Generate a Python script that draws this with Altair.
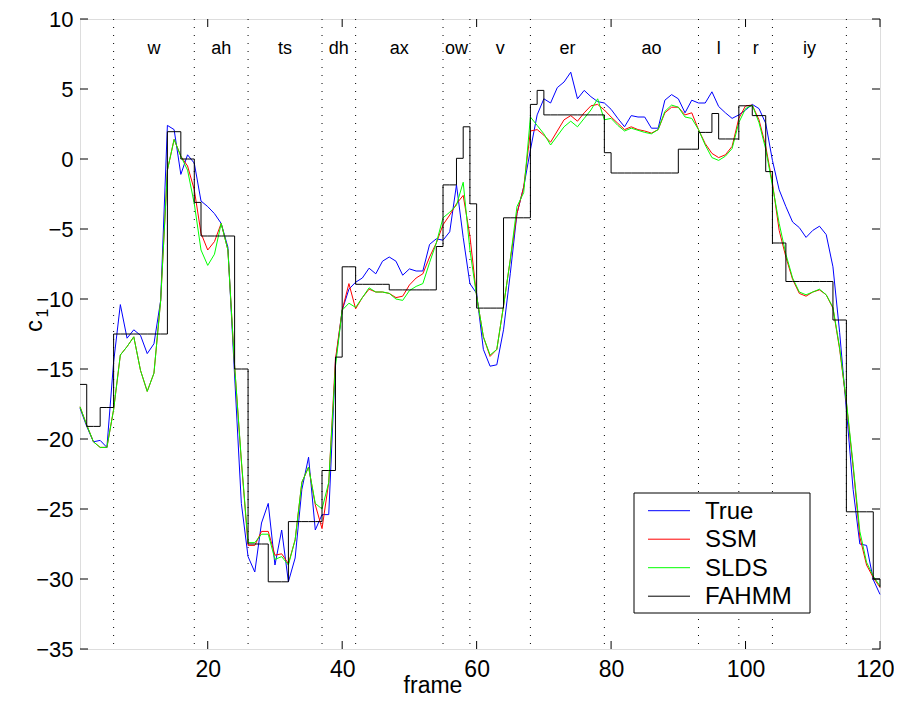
import altair as alt
import pandas as pd

frames = list(range(1, 121))

true_vals = [
    -17.8, -19.1, -20.2, -20.1, -20.6, -14.5, -10.4, -12.8, -12.2, -12.6,
    -13.9, -13.2, -10.1, 2.4, 2.1, -1.1, 0.3, -0.3, -3.0, -3.4,
    -3.9, -4.6, -6.3, -15.5, -24.6, -28.4, -29.5, -26.0, -24.6, -29.0,
    -26.5, -30.2, -28.5, -23.6, -21.3, -26.5, -25.4, -25.4, -14.5, -10.8,
    -9.3, -8.8, -8.5, -7.8, -8.2, -7.3, -7.0, -7.3, -8.3, -7.85,
    -8.0, -8.0, -6.1, -5.7, -5.8, -5.2, -1.85, -5.6, -8.9, -9.6,
    -13.6, -14.8, -14.7, -12.2, -8.2, -3.9, -2.0, 0.65, 3.15, 4.3,
    4.0, 5.1, 5.5, 6.2, 4.3, 4.9, 4.45, 4.1, 4.0, 3.55,
    2.9, 2.3, 3.1, 3.0, 3.0, 2.2, 2.2, 4.2, 4.6, 4.3,
    3.3, 4.2, 4.0, 4.0, 4.8, 3.75, 3.3, 2.9, 3.15, 3.5,
    3.9, 3.6, 2.55, -0.1, -2.2, -3.4, -4.5, -4.9, -5.6, -5.1,
    -4.8, -5.4, -7.7, -12.4, -17.9, -23.6, -27.5, -27.6, -30.05, -31.1,
]

ssm_vals = [
    -17.7, -19.0, -20.2, -20.6, -20.6, -17.9, -14.0, -13.4, -12.7, -15.1,
    -16.6, -15.3, -10.1, -0.8, 1.4, 0.2, -0.5, -2.2, -5.3, -6.5,
    -5.9, -4.6, -6.5, -14.8, -21.6, -27.6, -27.6, -26.6, -26.6, -28.3,
    -28.2, -28.9, -27.2, -23.1, -22.0, -24.7, -26.4, -23.1, -14.3, -10.8,
    -8.9, -10.7, -9.9, -9.3, -9.5, -9.5, -9.6, -9.9, -9.8, -9.0,
    -8.5, -8.2, -7.0, -6.0, -4.7, -4.0, -3.2, -2.6, -5.5, -9.8,
    -12.7, -14.1, -13.6, -10.5, -7.2, -3.9, -2.0, 2.0, 2.1, 1.7,
    1.2, 2.0, 2.8, 3.1, 2.7, 3.3, 3.8, 3.9, 3.5, 3.0,
    2.55, 2.1, 2.3, 2.1, 2.0, 1.85, 2.1, 3.3, 3.7, 3.7,
    3.15, 3.3, 2.1, 1.1, 0.4, 0.1, 0.3, 0.9, 2.9, 3.8,
    3.85, 2.8, 0.9, -1.7, -5.1, -7.0, -8.6, -9.6, -9.8, -9.5,
    -9.35, -9.7, -10.65, -13.6, -17.4, -22.0, -27.0, -29.0, -29.9, -30.6,
]

slds_vals = [
    -17.7, -19.0, -20.2, -20.6, -20.6, -17.9, -14.0, -13.4, -12.7, -15.1,
    -16.6, -15.3, -10.1, -0.8, 1.4, 0.2, -0.8, -3.2, -6.5, -7.6,
    -6.8, -4.6, -6.5, -14.8, -21.5, -27.4, -27.4, -26.8, -26.8, -28.6,
    -28.4, -29.0, -27.2, -23.1, -22.0, -24.6, -25.0, -23.1, -14.8, -10.8,
    -10.3, -10.6, -9.9, -9.2, -9.5, -9.5, -9.6, -10.0, -10.1, -9.4,
    -9.1, -8.9, -7.4, -6.0, -4.2, -3.8, -3.3, -1.66, -6.5, -9.8,
    -12.7, -14.0, -13.6, -10.5, -7.2, -3.4, -2.4, 3.0, 2.4, 1.8,
    1.0, 1.65, 2.3, 2.7, 2.3, 2.9, 3.5, 4.3, 2.8, 2.9,
    2.4, 2.0, 2.2, 2.05, 1.9, 1.8, 2.1, 3.4, 3.85, 3.7,
    3.0, 2.9, 2.1, 1.0, 0.1, -0.1, 0.2, 0.75, 2.6, 3.6,
    3.85, 2.6, 0.7, -1.9, -4.6, -6.8, -8.5, -9.5, -9.7, -9.5,
    -9.3, -9.7, -10.6, -13.5, -17.3, -21.8, -26.6, -28.8, -29.8, -30.5,
]

fahmm_vals = [
    -16.1, -19.1, -19.1, -17.75, -17.75, -12.5, -12.5, -12.5, -12.5, -12.5,
    -12.5, -12.5, -12.5, 1.95, 1.95, 0.0, 0.0, -3.1, -5.5, -5.5,
    -5.5, -5.5, -5.5, -15.0, -15.0, -27.5, -27.5, -27.5, -30.2, -30.2,
    -30.2, -25.9, -25.9, -25.9, -25.9, -25.9, -22.25, -22.25, -14.15, -7.7,
    -7.7, -8.95, -8.95, -8.95, -8.95, -8.95, -9.35, -9.35, -9.35, -9.35,
    -9.35, -9.35, -9.35, -6.25, -1.85, -1.85, 0.05, 2.3, -3.2, -10.65,
    -10.65, -10.65, -10.65, -4.2, -4.2, -4.2, -4.2, 3.9, 4.9, 3.15,
    3.15, 3.15, 3.15, 3.15, 3.15, 3.15, 3.15, 3.15, 0.45, -1.0,
    -1.0, -1.0, -1.0, -1.0, -1.0, -1.0, -1.0, -1.0, -1.0, 0.7,
    0.7, 0.7, 1.9, 1.9, 3.25, 1.43, 1.43, 1.43, 3.8, 3.8,
    3.1, 3.1, -0.9, -6.0, -6.0, -8.75, -8.75, -8.75, -8.75, -8.75,
    -8.75, -8.75, -11.5, -11.5, -25.2, -25.2, -25.2, -25.2, -30.0, -30.6,
]

series_names = ["True", "SSM", "SLDS", "FAHMM"]
series_colors = ["#0000ff", "#ff0000", "#00ff00", "#000000"]

phone_bounds = [6, 18, 26, 37, 42, 55, 59, 68, 79, 93, 99, 104, 115]
phones = ["w", "ah", "ts", "dh", "ax", "ow", "v", "er", "ao", "l", "r", "iy"]

x_ticks = [20, 40, 60, 80, 100, 120]
y_ticks = [-35, -30, -25, -20, -15, -10, -5, 0, 5, 10]
x_title = "frame"

FONT = "Liberation Sans"

rows = []
for name, vals in zip(series_names, [true_vals, ssm_vals, slds_vals, fahmm_vals]):
    for f, v in zip(frames, vals):
        rows.append({"frame": f, "value": v, "series": name})
df = pd.DataFrame(rows)

phone_df = pd.DataFrame({
    "phone": phones,
    "mid": [(a + b) / 2 for a, b in zip(phone_bounds[:-1], phone_bounds[1:])],
})
bound_df = pd.DataFrame({"b": phone_bounds})
xt_df = pd.DataFrame({"t": x_ticks})
yt_df = pd.DataFrame({"t": y_ticks})

W, H = 800, 630
x_scale = alt.Scale(domain=[1, 120], nice=False, zero=False)
y_scale = alt.Scale(domain=[-35, 10], nice=False, zero=False)
color_scale = alt.Scale(domain=series_names, range=series_colors)

x_axis = alt.Axis(values=x_ticks, ticks=False, domain=False, grid=False,
                  labelFontSize=23, labelFont=FONT, labelColor="black",
                  labelPadding=9, title="", labelFlush=True,
                  labelFlushOffset=14)
y_axis = alt.Axis(values=y_ticks, ticks=False, domain=False, grid=False,
                  labelFontSize=22, labelFont=FONT, labelColor="black",
                  labelPadding=7, title="")

bounds_layer = alt.Chart(bound_df).mark_rule(
    color="black", strokeWidth=1, strokeDash=[1, 7]
).encode(x=alt.X("b:Q", scale=x_scale, axis=x_axis))

layers = [bounds_layer]
for name in series_names:
    interp = "step-after" if name == "FAHMM" else "linear"
    layers.append(
        alt.Chart(df).transform_filter(alt.datum.series == name)
        .mark_line(strokeWidth=1, interpolate=interp)
        .encode(
            x=alt.X("frame:Q", scale=x_scale, axis=x_axis),
            y=alt.Y("value:Q", scale=y_scale, axis=y_axis),
            color=alt.Color("series:N", scale=color_scale, legend=None),
        )
    )

phone_layer = alt.Chart(phone_df).mark_text(
    fontSize=18, font=FONT, color="black", baseline="middle", align="center"
).encode(x=alt.X("mid:Q", scale=x_scale, axis=x_axis), y=alt.value(30), text="phone:N")

tick_b = alt.Chart(xt_df).mark_rule(color="black", strokeWidth=1).encode(
    x=alt.X("t:Q", scale=x_scale, axis=x_axis), y=alt.value(H), y2=alt.value(H - 8))
tick_t = alt.Chart(xt_df).mark_rule(color="black", strokeWidth=1).encode(
    x=alt.X("t:Q", scale=x_scale, axis=x_axis), y=alt.value(0), y2=alt.value(8))
tick_l = alt.Chart(yt_df).mark_rule(color="black", strokeWidth=1).encode(
    y=alt.Y("t:Q", scale=y_scale, axis=y_axis), x=alt.value(0), x2=alt.value(8))
tick_r = alt.Chart(yt_df).mark_rule(color="black", strokeWidth=1).encode(
    y=alt.Y("t:Q", scale=y_scale, axis=y_axis), x=alt.value(W), x2=alt.value(W - 8))

# manual legend (box, line samples, labels)
LX0, LX1, LY0, LY1 = 554, 730, 474, 594
legend_box = alt.Chart(pd.DataFrame({"k": [0]})).mark_rect(
    fill="white", stroke="black", strokeWidth=1
).encode(x=alt.value(LX0), x2=alt.value(LX1), y=alt.value(LY0), y2=alt.value(LY1))

legend_layers = [legend_box]
for i, (name, col) in enumerate(zip(series_names, series_colors)):
    ly = 491.7 + i * 28.5
    ldf = pd.DataFrame({"series": [name]})
    legend_layers.append(
        alt.Chart(ldf).mark_rule(color=col, strokeWidth=1).encode(
            x=alt.value(568), x2=alt.value(610), y=alt.value(ly))
    )
    legend_layers.append(
        alt.Chart(ldf).mark_text(fontSize=24, font=FONT, color="black",
                                 align="left", baseline="middle").encode(
            x=alt.value(625), y=alt.value(ly + 1), text="series:N")
    )

title_df = pd.DataFrame({"c": ["c"], "s": ["1"], "xt": [x_title]})
ytitle_c = alt.Chart(title_df).mark_text(
    fontSize=24, font=FONT, color="black", angle=270, baseline="middle", align="center"
).encode(x=alt.value(-45), y=alt.value(307), text="c:N")
ytitle_s = alt.Chart(title_df).mark_text(
    fontSize=16, font=FONT, color="black", angle=270, baseline="middle", align="center"
).encode(x=alt.value(-37), y=alt.value(294), text="s:N")
xtitle = alt.Chart(title_df).mark_text(
    fontSize=23, font=FONT, color="black", baseline="alphabetic", align="center"
).encode(x=alt.value(353), y=alt.value(674), text="xt:N")

chart = alt.layer(
    *layers, phone_layer, tick_b, tick_t, tick_l, tick_r,
    *legend_layers, ytitle_c, ytitle_s, xtitle
).properties(
    width=W, height=H,
    autosize=alt.AutoSizeParams(type="none"),
    padding={"left": 72, "top": 11, "right": 14, "bottom": 49},
).configure_view(stroke="black", strokeWidth=1).configure(background="white")

chart.save("out.html", embed_options={"renderer": "svg", "actions": False})
